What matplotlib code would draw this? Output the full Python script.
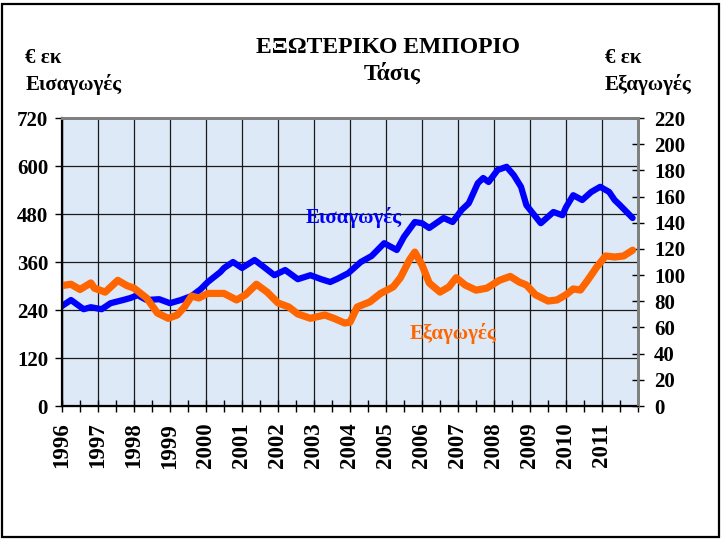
import matplotlib.pyplot as plt
from matplotlib.patches import Rectangle
from matplotlib.ticker import MultipleLocator

# Imports (left axis, EUR mn) - trend
imp_years = [1996.0, 1996.25, 1996.6, 1996.8, 1997.1, 1997.35, 1997.7, 1997.9,
             1998.1, 1998.35, 1998.7, 1999.0, 1999.3, 1999.6, 1999.85, 2000.05,
             2000.4, 2000.5, 2000.75, 2001.0, 2001.35, 2001.6, 2001.9, 2002.2,
             2002.55, 2002.9, 2003.2, 2003.45, 2003.65, 2003.95, 2004.3, 2004.6,
             2004.95, 2005.3, 2005.5, 2005.8, 2006.0, 2006.2, 2006.6, 2006.85,
             2007.1, 2007.3, 2007.55, 2007.7, 2007.85, 2008.1, 2008.35, 2008.55,
             2008.75, 2008.9, 2009.3, 2009.65, 2009.9, 2010.0, 2010.2, 2010.45,
             2010.7, 2010.95, 2011.2, 2011.35, 2011.5, 2011.85]
imp_values = [250, 265, 242, 247, 242, 257, 265, 270,
              277, 265, 267, 257, 265, 275, 292, 310,
              335, 345, 360, 345, 365, 348, 327, 340,
              317, 327, 317, 310, 318, 332, 360, 375,
              407, 390, 423, 460, 457, 445, 470, 460,
              490, 507, 557, 570, 560, 590, 598, 577,
              548, 502, 457, 485, 477, 497, 527, 515,
              535, 548, 535, 515, 502, 470]

# Exports (right axis, EUR mn)
exp_years = [1996.0, 1996.25, 1996.5, 1996.8, 1996.9, 1997.2, 1997.55, 1997.8,
             1998.0, 1998.35, 1998.65, 1998.95, 1999.2, 1999.4, 1999.6, 1999.8,
             2000.05, 2000.5, 2000.85, 2001.1, 2001.4, 2001.7, 2002.0, 2002.3,
             2002.55, 2002.9, 2003.3, 2003.55, 2003.85, 2004.0, 2004.2, 2004.55,
             2004.85, 2005.2, 2005.4, 2005.65, 2005.8, 2006.0, 2006.2, 2006.5,
             2006.75, 2006.95, 2007.2, 2007.5, 2007.8, 2008.15, 2008.45, 2008.7,
             2008.9, 2009.15, 2009.5, 2009.75, 2010.0, 2010.2, 2010.4, 2010.6,
             2010.85, 2011.1, 2011.35, 2011.6, 2011.85]
exp_values = [92, 93, 89, 94, 90, 87, 96, 92,
              90, 82.5, 71, 67, 69.5, 75.6, 84, 82.5,
              86, 86, 81, 85, 93, 87, 78.7, 75.6,
              70.3, 67, 69.5, 67, 63.4, 64, 75.6, 79.5,
              86, 91, 98, 111.5, 117.6, 107.7, 94, 87,
              91, 98, 92.4, 88.5, 90, 96, 99, 94.7,
              92.4, 85, 80.2, 81, 85, 89.4, 88.6, 96,
              106, 114.6, 113.8, 114.6, 119]

year_ticks = list(range(1996, 2012))
left_ticks = [0, 120, 240, 360, 480, 600, 720]
right_ticks = list(range(0, 221, 20))

plt.rcParams['font.family'] = ['Liberation Serif', 'DejaVu Serif']
plt.rcParams['font.weight'] = 'bold'

W, H = 724, 540
fig = plt.figure(figsize=(W / 100, H / 100), dpi=100)

# frame round the whole picture
fig.patches.append(Rectangle((2 / W, 3 / H), 717 / W, 533 / H, transform=fig.transFigure,
                             fill=False, edgecolor='black', linewidth=1.6))

ax = fig.add_axes([62 / W, 1 - 406 / H, 576 / W, 288 / H])
ax.set_facecolor('#dde9f6')
ax.set_xlim(1996, 2012)
ax.set_ylim(0, 720)
ax.set_xticks(year_ticks)
ax.xaxis.set_minor_locator(MultipleLocator(0.5))
ax.set_yticks(left_ticks)
ax.grid(True, which='major', color='#1a1a1a', linewidth=0.9)
ax.set_axisbelow(True)
ax.set_xticklabels([str(y) for y in year_ticks], rotation=90, fontsize=16.5, fontweight='bold')
ax.set_yticklabels([str(v) for v in left_ticks], fontsize=15, fontweight='bold')
ax.tick_params(axis='x', which='both', direction='inout', length=8, width=1, pad=8)
ax.tick_params(axis='y', direction='out', length=5, width=1, pad=5)
for side in ['left', 'bottom']:
    ax.spines[side].set_color('black')
    ax.spines[side].set_linewidth(1.6)
for side in ['top', 'right']:
    ax.spines[side].set_color('#808080')
    ax.spines[side].set_linewidth(2)

ax.plot(imp_years, imp_values, color='#0000ff', linewidth=4.5,
        solid_joinstyle='round', solid_capstyle='round')

ax2 = ax.twinx()
ax2.set_ylim(0, 220)
ax2.set_yticks(right_ticks)
ax2.set_yticklabels([str(v) for v in right_ticks], fontsize=15, fontweight='bold')
ax2.tick_params(axis='y', direction='inout', length=9, width=1, pad=7)
ax2.spines['right'].set_color('#808080')
ax2.spines['right'].set_linewidth(2)
ax2.spines['top'].set_color('#808080')
ax2.spines['top'].set_linewidth(2)
ax2.plot(exp_years, exp_values, color='#ff6600', linewidth=5.2,
         solid_joinstyle='round', solid_capstyle='round')

ax.text(2002.77, 470, 'Εισαγωγές', color='#0000ff', fontsize=15, fontweight='bold',
        ha='left', va='center', zorder=5)
ax.text(2005.65, 180, 'Εξαγωγές', color='#ff6600', fontsize=15, fontweight='bold',
        ha='left', va='center', zorder=5)

fig.text(388 / W, 1 - 53 / H, 'ΕΞΩΤΕΡΙΚΟ ΕΜΠΟΡΙΟ', ha='center', va='baseline',
         fontsize=17, fontweight='bold')
fig.text(392 / W, 1 - 80 / H, 'Τάσις', ha='center', va='baseline',
         fontsize=17, fontweight='bold')
fig.text(25 / W, 1 - 63 / H, '€ εκ', ha='left', va='baseline', fontsize=15, fontweight='bold')
fig.text(26 / W, 1 - 90 / H, 'Εισαγωγές', ha='left', va='baseline', fontsize=15, fontweight='bold')
fig.text(605 / W, 1 - 63 / H, '€ εκ', ha='left', va='baseline', fontsize=15, fontweight='bold')
fig.text(605 / W, 1 - 90 / H, 'Εξαγωγές', ha='left', va='baseline', fontsize=15, fontweight='bold')

fig.savefig('out.png', dpi=100)
